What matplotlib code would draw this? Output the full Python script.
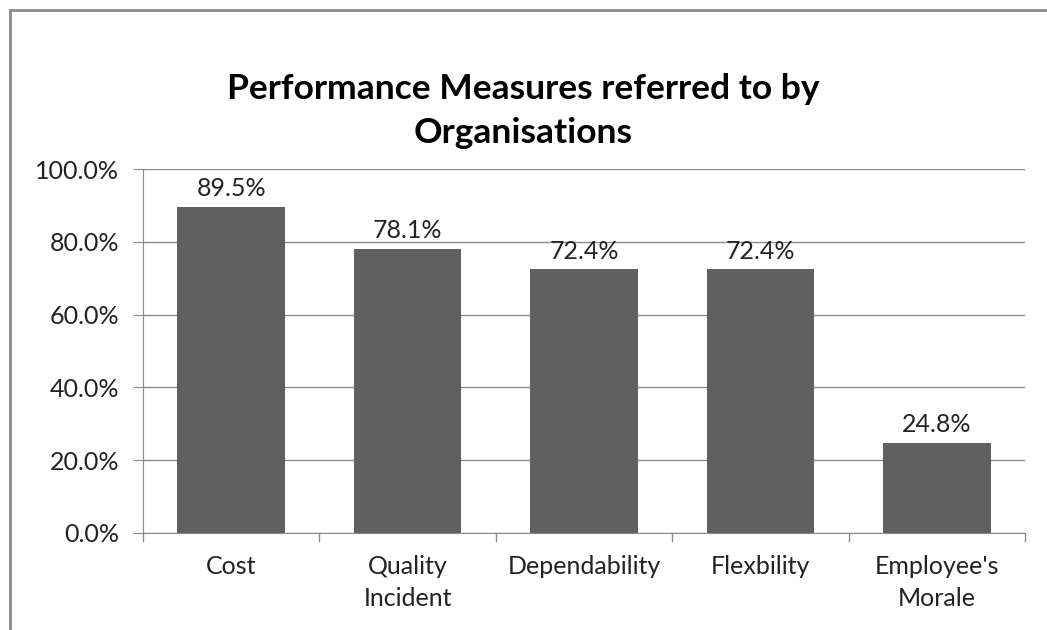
import matplotlib
matplotlib.use("Agg")
import matplotlib.pyplot as plt
from matplotlib.patches import Rectangle

categories = ["Cost", "Quality\nIncident", "Dependability", "Flexbility", "Employee's\nMorale"]
values = [89.5, 78.1, 72.4, 72.4, 24.8]
yticks = [0, 20, 40, 60, 80, 100]

plt.rcParams['font.family'] = ['Lato', 'DejaVu Sans']

W, H = 1047, 630
fig = plt.figure(figsize=(W/100, H/100), dpi=100)
ax = fig.add_axes([143/W, 1-533/H, (1025-143)/W, (533-169)/H])

FS = 18
x = list(range(len(categories)))
ax.bar(x, values, width=0.61, color="#606060", zorder=3)
ax.set_xlim(-0.5, len(categories)-0.5)
ax.set_ylim(0, 100)
ax.set_yticks(yticks)
ax.set_yticklabels([f"{v:.1f}%" for v in yticks], fontsize=FS, color="#222222")
ax.yaxis.grid(True, color="#8c8c8c", linewidth=1, zorder=0)
ax.tick_params(axis='y', length=7, color="#8c8c8c", direction='out', pad=10)

ax.set_xticks(x)
ax.set_xticklabels(categories, fontsize=FS, color="#222222", linespacing=1.45)
ax.tick_params(axis='x', length=0, pad=16)
for b in [i - 0.5 for i in range(len(categories)+1)]:
    ax.plot([b, b], [0, -0.022], transform=ax.get_xaxis_transform(), color="#8c8c8c", lw=1, clip_on=False)

for s in ["top", "right"]:
    ax.spines[s].set_visible(False)
for s in ["left", "bottom"]:
    ax.spines[s].set_color("#8c8c8c")

for xi, v in zip(x, values):
    ax.annotate(f"{v:.1f}%", (xi, v), xytext=(0, 5), textcoords="offset points",
                ha="center", va="bottom", fontsize=FS, color="#222222")

fig.text(0.5, 1-111/H, "Performance Measures referred to by\nOrganisations", ha="center", va="center",
         fontsize=25.5, fontweight="bold", color="black", linespacing=1.45)

fig.patches.append(Rectangle((10/W, -0.5), 2, 1-10/H+0.5, transform=fig.transFigure,
                             fill=False, edgecolor="#8c8c8c", linewidth=2))

fig.savefig("out.png", dpi=100)
